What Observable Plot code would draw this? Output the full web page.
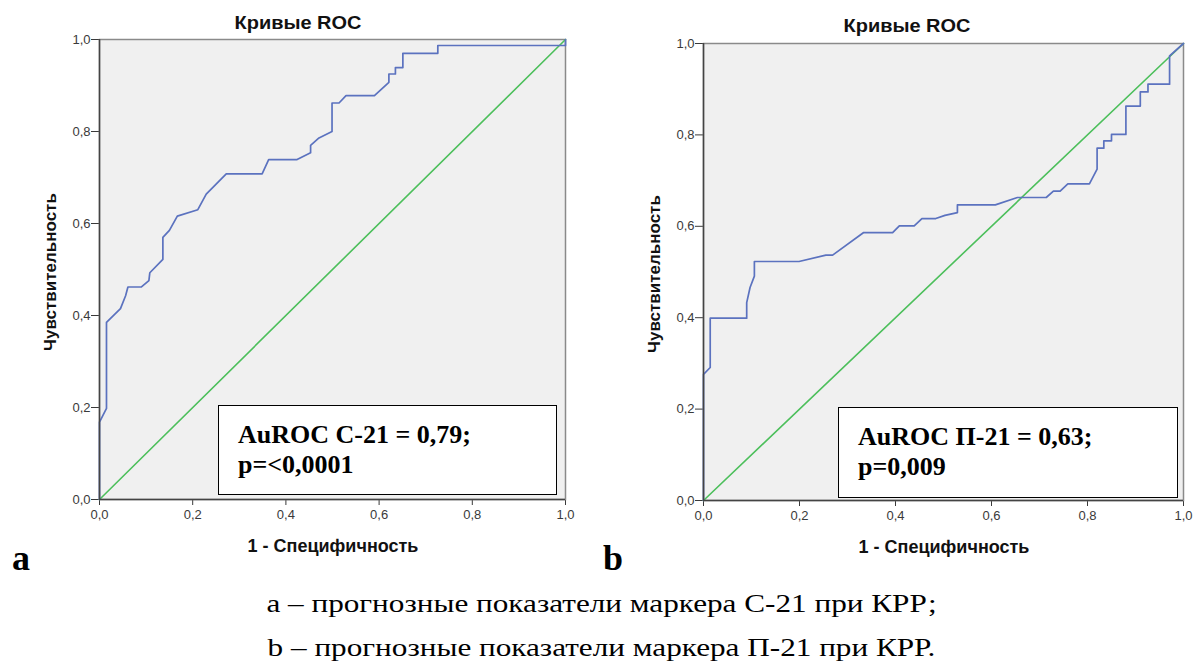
<!DOCTYPE html>
<html>
<head>
<meta charset="utf-8">
<script src="https://cdn.jsdelivr.net/npm/d3@7"></script>
<script src="https://cdn.jsdelivr.net/npm/@observablehq/plot@0.6"></script>
<style>
  html, body { margin: 0; padding: 0; background: #fff; }
  #wrap { position: relative; width: 1195px; height: 664px; overflow: hidden; background: #fff; }
  .panel { position: absolute; top: 0; }
  .title { position: absolute; font-family: "Liberation Sans", Arial, sans-serif; font-size: 19px; font-weight: bold; color: #111; line-height: 22px; transform: translateX(-50%) scaleX(1.05); white-space: nowrap; }
  .xlab { position: absolute; font-family: "Liberation Sans", Arial, sans-serif; font-size: 18px; font-weight: bold; color: #111; line-height: 20px; transform: translateX(-50%); white-space: nowrap; }
  .ylab { position: absolute; font-family: "Liberation Sans", Arial, sans-serif; font-size: 17px; font-weight: bold; color: #111; line-height: 20px; transform: translate(-50%, -50%) rotate(-90deg); white-space: nowrap; }
  .letter { position: absolute; font-family: "Liberation Serif", "Times New Roman", serif; font-size: 36px; font-weight: bold; color: #000; line-height: 36px; }
  .box { position: absolute; background: #fff; border: 1px solid #000; box-sizing: border-box; font-family: "Liberation Serif", "Times New Roman", serif; font-size: 26px; font-weight: bold; color: #000; line-height: 30px; padding: 14px 0 0 19px; white-space: nowrap; }
  .caption { position: absolute; left: 4px; width: 1195px; text-align: center; font-family: "Liberation Serif", "Times New Roman", serif; font-size: 26px; line-height: 26px; color: #000; transform: scaleX(1.2); white-space: nowrap; }
</style>
</head>
<body>
<div id="wrap"></div>
<script>
// ---- data ----
const chartTitle = "Кривые ROC";
const xLabel = "1 - Специфичность";
const yLabel = "Чувствительность";
const tickValues = [0, 0.2, 0.4, 0.6, 0.8, 1.0];
const diagX = [0, 1];
const diagY = [0, 1];

// panel a: marker С-21
const rocA_fpr = [0, 0, 0.015, 0.015, 0.045, 0.056, 0.061, 0.090, 0.106, 0.108, 0.136, 0.136, 0.150, 0.167, 0.211, 0.229, 0.272, 0.349, 0.363, 0.424, 0.453, 0.453, 0.471, 0.499, 0.499, 0.514, 0.529, 0.590, 0.621, 0.621, 0.635, 0.635, 0.651, 0.651, 0.726, 0.726, 1.0, 1.0];
const rocA_tpr = [0, 0.168, 0.198, 0.385, 0.415, 0.443, 0.462, 0.462, 0.476, 0.493, 0.522, 0.570, 0.585, 0.616, 0.630, 0.664, 0.708, 0.708, 0.739, 0.739, 0.754, 0.770, 0.786, 0.800, 0.862, 0.862, 0.878, 0.878, 0.907, 0.925, 0.925, 0.939, 0.939, 0.970, 0.970, 0.987, 0.987, 1.0];

// panel b: marker П-21
const rocB_fpr = [0, 0, 0.014, 0.014, 0.090, 0.090, 0.097, 0.106, 0.106, 0.199, 0.255, 0.269, 0.333, 0.394, 0.408, 0.439, 0.455, 0.484, 0.503, 0.529, 0.529, 0.608, 0.654, 0.714, 0.729, 0.743, 0.759, 0.804, 0.820, 0.820, 0.834, 0.834, 0.850, 0.850, 0.880, 0.880, 0.910, 0.910, 0.926, 0.926, 0.971, 0.971, 1.0];
const rocB_tpr = [0, 0.276, 0.291, 0.399, 0.399, 0.433, 0.466, 0.491, 0.523, 0.523, 0.537, 0.537, 0.586, 0.586, 0.601, 0.601, 0.617, 0.617, 0.624, 0.630, 0.647, 0.647, 0.663, 0.663, 0.677, 0.677, 0.693, 0.693, 0.725, 0.771, 0.771, 0.787, 0.787, 0.801, 0.801, 0.863, 0.863, 0.894, 0.894, 0.911, 0.911, 0.973, 1.0];

const annotA = ["AuROC С-21 = 0,79;", "p=&lt;0,0001"];
const annotB = ["AuROC П-21 = 0,63;", "p=0,009"];
const panelLetters = ["a", "b"];
const captions = ["a – прогнозные показатели маркера С-21 при КРР;", "b – прогнозные показатели маркера П-21 при КРР."];

// ---- drawing ----
const fmt = d => d.toFixed(1).replace(".", ",");
const BLUE = "#5b72bf";
const GREEN = "#4cbf5b";

function panel(fpr, tpr, m) {
  const data = fpr.map((x, i) => ({x, y: tpr[i]}));
  const diag = diagX.map((x, i) => ({x, y: diagY[i]}));
  const svg = Plot.plot({
    width: m.width, height: m.height,
    marginLeft: m.left, marginRight: m.right, marginTop: m.top, marginBottom: m.bottom,
    style: {fontFamily: "'Liberation Sans', Arial, sans-serif", fontSize: "13px", color: "#3a3a3a", background: "transparent", overflow: "visible"},
    x: {domain: [0, 1], ticks: tickValues, tickFormat: fmt, tickSize: 6, tickPadding: 4, label: null},
    y: {domain: [0, 1], ticks: tickValues, tickFormat: fmt, tickSize: 8, tickPadding: 1, label: null},
    marks: [
      Plot.frame({fill: "#f0f0f0", stroke: "#8a8a8a", strokeWidth: 1.5}),
      Plot.line(diag, {x: "x", y: "y", stroke: GREEN, strokeWidth: 1.6}),
      Plot.line(data, {x: "x", y: "y", stroke: BLUE, strokeWidth: 1.7}),
      Plot.ruleX([0], {stroke: "#444", strokeWidth: 1.5}),
      Plot.ruleY([0], {stroke: "#444", strokeWidth: 1.5})
    ]
  });
  d3.select(svg).selectAll("g[font-size]").attr("font-size", 13);
  d3.select(svg).selectAll("text").attr("font-size", 13).style("font-size", "13px").attr("fill", "#3a3a3a");
  return svg;
}

const wrap = document.getElementById("wrap");
function add(cls, text, css) {
  const d = document.createElement("div");
  d.className = cls;
  if (Array.isArray(text)) d.innerHTML = text.map(t => `<div>${t}</div>`).join("");
  else d.textContent = text;
  Object.assign(d.style, css);
  wrap.appendChild(d);
  return d;
}

const mA = {width: 600, height: 565, left: 99, right: 35, top: 39, bottom: 66};
const mB = {width: 595, height: 565, left: 103, right: 12, top: 43, bottom: 65};

const pA = panel(rocA_fpr, rocA_tpr, mA);
pA.classList.add("panel"); pA.style.left = "0px";
wrap.appendChild(pA);
const pB = panel(rocB_fpr, rocB_tpr, mB);
pB.classList.add("panel"); pB.style.left = "600px";
wrap.appendChild(pB);

add("title", chartTitle, {left: "298px", top: "12px"});
add("title", chartTitle, {left: "907px", top: "15px"});
add("xlab", xLabel, {left: "333px", top: "536px"});
add("xlab", xLabel, {left: "944px", top: "537px"});
add("ylab", yLabel, {left: "51px", top: "272px"});
add("ylab", yLabel, {left: "655px", top: "274px"});
add("letter", panelLetters[0], {left: "12px", top: "540px"});
add("letter", panelLetters[1], {left: "603px", top: "540px"});

add("box", annotA, {left: "218px", top: "405px", width: "339px", height: "90px"});
add("box", annotB, {left: "838px", top: "407px", width: "340px", height: "91px"});

add("caption", captions[0], {top: "591px"});
add("caption", captions[1], {top: "635px"});
</script>
</body>
</html>
